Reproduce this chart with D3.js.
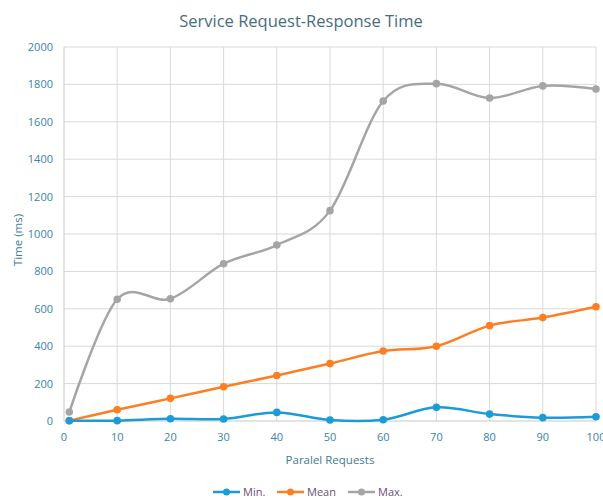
<!DOCTYPE html>
<html><head><meta charset="utf-8">
<script src="https://cdn.jsdelivr.net/npm/d3@7"></script>
<style>body{margin:0;background:#fff;overflow:hidden}</style>
</head><body>
<svg id="c" width="603" height="500"></svg>
<script>
const xValues = [1, 10, 20, 30, 40, 50, 60, 70, 80, 90, 100];
const minValues = [1, 2, 12, 11, 46, 5, 7, 73, 37, 18, 23];
const meanValues = [2, 60, 121, 183, 243, 307, 374, 400, 510, 553, 611];
const maxValues = [48, 651, 654, 841, 941, 1125, 1711, 1804, 1727, 1792, 1775];
const seriesNames = ["Min.", "Mean", "Max."];
const seriesColors = ["#1b9bd7", "#fd7f23", "#a5a5a5"];
const xTicks = [0, 10, 20, 30, 40, 50, 60, 70, 80, 90, 100];
const yTicks = [0, 200, 400, 600, 800, 1000, 1200, 1400, 1600, 1800, 2000];

const svg = d3.select("#c");
const font = "'Open Sans', 'Noto Sans', sans-serif";
const x = d3.scaleLinear().domain([0, 100]).range([64, 596]);
const y = d3.scaleLinear().domain([0, 2000]).range([421, 47]);

// gridlines
svg.append("g").selectAll("line").data(yTicks.filter(d => d > 0)).join("line")
  .attr("x1", x(0)).attr("x2", x(100)).attr("y1", d => y(d)).attr("y2", d => y(d))
  .attr("stroke", "#d9d9d9").attr("stroke-width", 1);
svg.append("g").selectAll("line").data(xTicks.filter(d => d > 0)).join("line")
  .attr("x1", d => x(d)).attr("x2", d => x(d)).attr("y1", y(0)).attr("y2", y(2000))
  .attr("stroke", "#d9d9d9").attr("stroke-width", 1);
// axes lines
svg.append("line").attr("x1", x(0)).attr("x2", x(0)).attr("y1", y(0)).attr("y2", y(2000))
  .attr("stroke", "#c8c8c8");
svg.append("line").attr("x1", x(0)).attr("x2", x(100)).attr("y1", y(0)).attr("y2", y(0))
  .attr("stroke", "#c8c8c8");

// tick labels
const tickColor = "#3a84a8";
svg.append("g").selectAll("text").data(yTicks).join("text")
  .attr("x", 53).attr("y", d => y(d) + 4).attr("text-anchor", "end")
  .attr("font-family", font).attr("font-size", 11).attr("fill", tickColor).text(d => d);
svg.append("g").selectAll("text").data(xTicks).join("text")
  .attr("x", d => x(d)).attr("y", 441).attr("text-anchor", "middle")
  .attr("font-family", font).attr("font-size", 11).attr("fill", tickColor).text(d => d);

// titles
svg.append("text").attr("x", 301).attr("y", 27).attr("text-anchor", "middle")
  .attr("font-family", font).attr("font-size", 16.5).attr("fill", "#466e7e")
  .text("Service Request-Response Time");
svg.append("text").attr("x", 330).attr("y", 464).attr("text-anchor", "middle")
  .attr("font-family", font).attr("font-size", 11.5).attr("fill", "#3f7a96")
  .text("Paralel Requests");
svg.append("text").attr("transform", "translate(22,240) rotate(-90)").attr("text-anchor", "middle")
  .attr("font-family", font).attr("font-size", 11.5).attr("fill", "#3f7a96")
  .text("Time (ms)");

// series
const allSeries = [minValues, meanValues, maxValues];
const line = d3.line().x((d, i) => x(xValues[i])).y(d => y(d)).curve(d3.curveCardinal.tension(0));
const drawOrder = [2, 1, 0];
drawOrder.forEach(k => {
  const vals = allSeries[k];
  svg.append("path").datum(vals).attr("d", line).attr("fill", "none")
    .attr("stroke", seriesColors[k]).attr("stroke-width", 2.5).attr("stroke-linejoin", "round");
  svg.append("g").selectAll("circle").data(vals).join("circle")
    .attr("cx", (d, i) => x(xValues[i])).attr("cy", d => y(d)).attr("r", 3.8)
    .attr("fill", seriesColors[k]);
});

// legend
const legendX = [213, 277, 348];
const lg = svg.append("g");
seriesNames.forEach((name, k) => {
  const lx = legendX[k];
  lg.append("line").attr("x1", lx).attr("x2", lx + 27).attr("y1", 492).attr("y2", 492)
    .attr("stroke", seriesColors[k]).attr("stroke-width", 2.5);
  lg.append("circle").attr("cx", lx + 13.5).attr("cy", 492).attr("r", 3.5).attr("fill", seriesColors[k]);
  lg.append("text").attr("x", lx + 30).attr("y", 496).attr("font-family", font)
    .attr("font-size", 11).attr("fill", "#6d4f76").text(name);
});
</script>
</body></html>
